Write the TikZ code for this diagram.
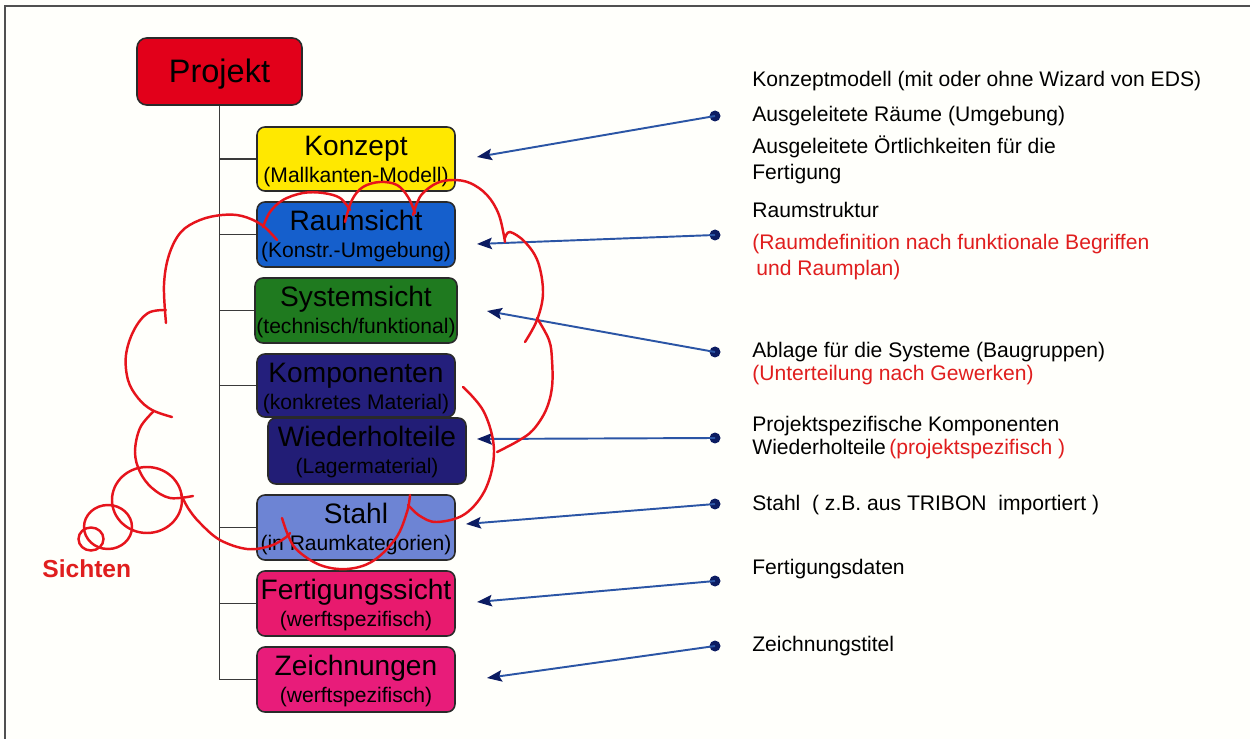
\documentclass[tikz,border=0pt]{standalone}
\usepackage{fontspec}
\setmainfont{Liberation Sans}
\usetikzlibrary{arrows.meta}

\definecolor{paper}{HTML}{FFFFFB}
\definecolor{framegray}{HTML}{505050}
\definecolor{boxline}{HTML}{2A2A2A}
\definecolor{treeline}{HTML}{3A3A3A}
\definecolor{projred}{HTML}{E2001A}
\definecolor{konzyellow}{HTML}{FFE800}
\definecolor{raumblue}{HTML}{155FCC}
\definecolor{sysgreen}{HTML}{1F7A1F}
\definecolor{kompnavy}{HTML}{241F7C}
\definecolor{wiednavy}{HTML}{221D76}
\definecolor{stahlblue}{HTML}{6D84D4}
\definecolor{fertpink}{HTML}{E81A6E}
\definecolor{zeichpink}{HTML}{E81C7A}
\definecolor{connblue}{HTML}{2B55A5}
\definecolor{tipnavy}{HTML}{0C1C62}
\definecolor{cloudred}{HTML}{E6141C}
\definecolor{textred}{HTML}{E01E1E}

\tikzset{
  vbox/.style={draw=boxline, line width=0.9pt, rounded corners=4.5pt, inner sep=0pt},
  ttl/.style={anchor=base, font=\fontsize{16}{19}\selectfont, inner sep=0pt},
  subttl/.style={anchor=base, font=\fontsize{12}{14}\selectfont, inner sep=0pt},
  tree/.style={draw=treeline, line width=1pt},
  conn/.style={draw=connblue, line width=1.1pt,
    -{Stealth[length=8.5pt, width=6.5pt, inset=1.5pt, color=tipnavy]}},
  enddot/.style={circle, fill=tipnavy, inner sep=0pt, minimum size=0.22cm},
  info/.style={anchor=base west, font=\fontsize{12}{14}\selectfont, inner sep=0pt},
  cloudline/.style={draw=cloudred, line width=1.4pt, line cap=round},
}

% #1 name, #2 x, #3 y (centre), #4 width, #5 height, #6 fill, #7 title, #8 subtitle
\newcommand{\sichtbox}[8]{%
  \node[vbox, fill=#6, minimum width=#4, minimum height=#5] (#1) at (#2,#3) {};
  \node[ttl] (#1-t) at ([yshift=-0.59cm]#1.north) {#7};
  \node[subttl] (#1-s) at ([yshift=-1.13cm]#1.north) {#8};
}

\begin{document}
\begin{tikzpicture}[x=0.02cm, y=-0.02cm]
  \useasboundingbox (0,0) rectangle (1250,739);
  \fill[paper] (0,0) rectangle (1250,739);
  \draw[framegray, line width=1pt] (5,739) -- (5,6) -- (1250,6);

  % root
  \node[vbox, fill=projred, rounded corners=5.5pt, minimum width=3.30cm, minimum height=1.34cm] (proj) at (219.5,71.5) {};
  \node[anchor=base, font=\fontsize{18.5}{22}\selectfont, inner sep=0pt] (proj-t) at (219.5,83) {Projekt};

  % views (positions first so the tree can refer to them)
  \coordinate (konzC) at (356,159);
  \coordinate (raumC) at (356,234.5);
  \coordinate (sysC) at (356,310.5);
  \coordinate (kompC) at (356,385.5);
  \coordinate (stahlC) at (356,527.5);
  \coordinate (fertC) at (356,603.5);
  \coordinate (zeichC) at (356,679.5);

  % tree
  \draw[tree] (proj.south) -- (proj.south |- zeichC) -- (257,679.5);
  \foreach \c in {konzC,raumC,sysC,kompC,stahlC,fertC}
    \draw[tree] (proj.south |- \c) -- ([xshift=-1.98cm]\c);

  \sichtbox{konz}{356}{159}{3.96cm}{1.28cm}{konzyellow}{Konzept}{(Mallkanten-Modell)}
  \sichtbox{raum}{356}{234.5}{3.96cm}{1.30cm}{raumblue}{Raumsicht}{(Konstr.-Umgebung)}
  \sichtbox{sys}{356}{310.5}{4.04cm}{1.30cm}{sysgreen}{Systemsicht}{(technisch/funktional)}
  \sichtbox{komp}{356}{385.5}{3.96cm}{1.26cm}{kompnavy}{Komponenten}{(konkretes Material)}
  \sichtbox{wied}{367}{451}{3.96cm}{1.32cm}{wiednavy}{Wiederholteile}{(Lagermaterial)}
  \sichtbox{stahl}{356}{527.5}{3.96cm}{1.30cm}{stahlblue}{Stahl}{(in Raumkategorien)}
  \sichtbox{fert}{356}{603.5}{3.96cm}{1.30cm}{fertpink}{Fertigungssicht}{(werftspezifisch)}
  \sichtbox{zeich}{356}{679.5}{3.96cm}{1.30cm}{zeichpink}{Zeichnungen}{(werftspezifisch)}

  % descriptions
  \node[info] (i1) at (752,87) {Konzeptmodell (mit oder ohne Wizard von EDS)};
  \node[info] (i2) at (752,122) {Ausgeleitete Räume (Umgebung)};
  \node[info] (i3) at (752,154) {Ausgeleitete Örtlichkeiten für die};
  \node[info] (i4) at (752,180) {Fertigung};
  \node[info] (i5) at (752,218) {Raumstruktur};
  \node[info, text=textred] (i6) at (752,250) {(Raumdefinition nach funktionale Begriffen};
  \node[info, text=textred] (i7) at (756,276) {und Raumplan)};
  \node[info] (i8) at (752,358) {Ablage für die Systeme (Baugruppen)};
  \node[info, text=textred] (i9) at (752,381) {(Unterteilung nach Gewerken)};
  \node[info] (i10) at (752,432) {Projektspezifische Komponenten};
  \node[info] (i11) at (752,455) {Wiederholteile\,\textcolor{textred}{(projektspezifisch )}};
  \node[info] (i12) at (752,510) {Stahl\ \ ( z.B. aus TRIBON\ \ importiert )};
  \node[info] (i13) at (752,574) {Fertigungsdaten};
  \node[info] (i14) at (752,651) {Zeichnungstitel};

  % pointers
  \node[enddot] (d1) at (715,116) {};
  \node[enddot] (d2) at (715,235) {};
  \node[enddot] (d3) at (715,352) {};
  \node[enddot] (d4) at (715,438) {};
  \node[enddot] (d5) at (715,504) {};
  \node[enddot] (d6) at (715,581) {};
  \node[enddot] (d7) at (715,646) {};
  \coordinate (p1) at (477,157);
  \coordinate (p2) at (477,244);
  \coordinate (p3) at (487,311);
  \coordinate (p4) at (477,439);
  \coordinate (p5) at (466,524);
  \coordinate (p6) at (477,602);
  \coordinate (p7) at (487,678);
  \foreach \i in {1,...,7}
    \draw[conn] (d\i.center) -- (p\i);

  % thought cloud
  \begin{scope}[cloudline]
    \draw plot[smooth, tension=0.6] coordinates {(277,240) (262,225) (242,216) (222,215) (200,220) (181,232) (169,255) (164,285) (166,323)};
    \draw plot[smooth, tension=0.6] coordinates {(166,310) (148,313) (134,330) (126,355) (128,380) (138,398) (152,410) (172,417)};
    \draw plot[smooth, tension=0.6] coordinates {(153,412) (140,428) (135,452) (140,472) (152,488) (170,498) (193,496)};
    \draw plot[smooth, tension=0.6] coordinates {(181,494) (188,508) (200,523) (220,540) (247,549) (270,546) (285,538) (290,533)};
    \draw plot[smooth, tension=0.6] coordinates {(282,518) (288,535) (297,550) (320,565) (347,569) (373,561) (396,538) (407,512) (410,495)};
    \draw plot[smooth, tension=0.6] coordinates {(408,505) (420,516) (437,522) (465,514) (486,488) (494,450) (484,412) (463,387)};
    \draw plot[smooth, tension=0.6] coordinates {(497,452) (518,441) (533,430) (546,410) (552,387) (552,360) (549,340) (537,318)};
    \draw plot[smooth, tension=0.6] coordinates {(525,342) (537,320) (543,293) (538,262) (525,242) (510,232) (505,238)};
    \draw plot[smooth, tension=0.6] coordinates {(505,242) (499,215) (487,195) (470,183) (453,180) (437,183) (423,193) (417,203) (413,215)};
    \draw plot[smooth, tension=0.6] coordinates {(415,213) (408,197) (397,185) (380,182) (363,187) (352,200) (345,222)};
    \draw plot[smooth, tension=0.6] coordinates {(350,210) (340,198) (323,193) (303,193) (283,200) (270,212) (263,227)};
    % trailing bubbles
    \draw (147,500) ellipse [x radius=35, y radius=33];
    \draw (108,527) ellipse [x radius=24, y radius=22];
    \draw (91,539) ellipse [x radius=12.5, y radius=11.5];
  \end{scope}
  \node[anchor=base west, font=\fontsize{14}{16}\selectfont\bfseries, text=textred, inner sep=0pt] (sichten) at (42,577) {Sichten};
\end{tikzpicture}
\end{document}
